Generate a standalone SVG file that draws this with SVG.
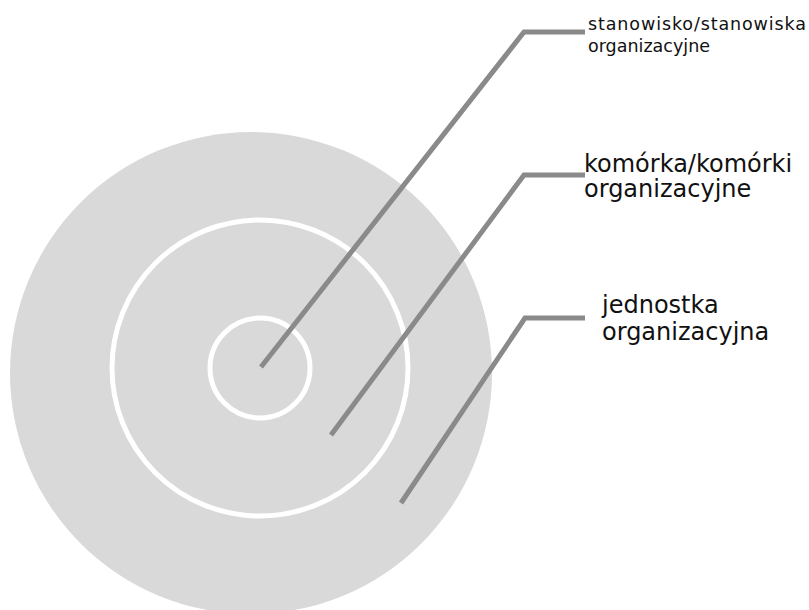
<svg xmlns="http://www.w3.org/2000/svg" width="809" height="610" viewBox="0 0 809 610">
<style>
.ring{fill:none;stroke:#ffffff;stroke-width:5}
.conn{fill:none;stroke:#8a8a8a;stroke-width:5;stroke-linejoin:miter}
.lbl{font-family:"DejaVu Sans","Liberation Sans",sans-serif;fill:#111111}
</style>
<rect width="809" height="610" fill="#ffffff"/>
<g id="unit">
<circle cx="251" cy="373" r="241" fill="#d9d9d9"/>
</g>
<g id="cells">
<circle class="ring" cx="260" cy="368" r="148"/>
</g>
<g id="positions">
<circle class="ring" cx="260" cy="368" r="50"/>
</g>
<g id="connectors">
<polyline class="conn" points="261,367 524,32 585,32"/>
<polyline class="conn" points="331,435 524,175 585,175"/>
<polyline class="conn" points="401,503 525,318 585,318"/>
</g>
<g id="label-positions">
<text class="lbl" font-size="17.5" x="588" y="30" textLength="218" lengthAdjust="spacing">stanowisko/stanowiska</text>
<text class="lbl" font-size="17.5" x="588" y="52">organizacyjne</text>
</g>
<g id="label-cells">
<text class="lbl" font-size="24" x="584" y="172">komórka/komórki</text>
<text class="lbl" font-size="24" x="584" y="197">organizacyjne</text>
</g>
<g id="label-unit">
<text class="lbl" font-size="24" x="602" y="313">jednostka</text>
<text class="lbl" font-size="24" x="602" y="340">organizacyjna</text>
</g>
</svg>
